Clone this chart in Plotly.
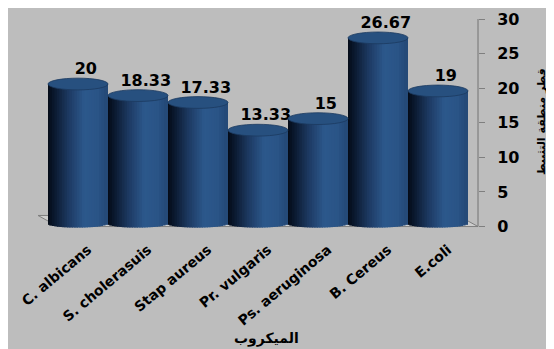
import numpy as np
import plotly.graph_objects as go

categories = ["C. albicans", "S. cholerasuis", "Stap aureus", "Pr. vulgaris",
              "Ps. aeruginosa", "B. Cereus", "E.coli"]
values = [20, 18.33, 17.33, 13.33, 15, 26.67, 19]
value_labels = ["20", "18.33", "17.33", "13.33", "15", "26.67", "19"]
y_ticks = [0, 5, 10, 15, 20, 25, 30]
x_title = "الميكروب"
y_title = "قطر منطقة التثبيط"

# page body has an 8px margin, so the figure starts at (8, 8) in the screenshot
OFF = 8
W, H = 546, 341
ML, MR, MT, MB = 30, 76, 11, 119
xr = [-0.6667, 6.6667]
yr = [-0.5, 30]

def px_x(p):
    return (p - OFF - ML) / (W - ML - MR)

def px_y(p):
    return (H - MB - (p - OFF)) / (H - MT - MB)

idx = list(range(len(categories)))

fig = go.Figure()

N = 24
top_off = 0.6
top_hh = 0.85
b0, bh = 0.4, 0.55
ov = 0.02

# value labels first so cylinders in front may hide them
fig.add_trace(go.Scatter(
    x=[i + 0.13 for i in idx], y=[v + top_off + top_hh for v in values],
    mode="text", text=value_labels, textposition="top center",
    textfont=dict(family="DejaVu Sans", size=16, color="black", weight="bold"),
    hoverinfo="skip", showlegend=False, cliponaxis=False))

def shade(t):
    stops = [(0.0, (4, 10, 20)), (0.12, (10, 24, 45)), (0.35, (28, 56, 95)),
             (0.62, (44, 88, 140)), (0.85, (42, 84, 134)), (1.0, (36, 72, 118))]
    for (t0, c0), (t1, c1) in zip(stops[:-1], stops[1:]):
        if t <= t1:
            f = (t - t0) / (t1 - t0)
            c = [round(c0[k] + f * (c1[k] - c0[k])) for k in range(3)]
            return "rgb(%d,%d,%d)" % tuple(c)
    return "rgb(36,72,118)"

for j in range(N):
    t = (j + 0.5) / N
    u = 2 * t - 1
    base = b0 - bh * np.sqrt(max(0.0, 1 - u * u))
    tops = [v + top_off for v in values]
    start = -0.5 + j / N - (ov if j > 0 else 0)
    width = -0.5 + (j + 1) / N - start
    fig.add_trace(go.Bar(
        x=idx, y=[tp - base for tp in tops], base=[base] * len(values),
        width=width, offset=start,
        marker=dict(color=shade(t), line=dict(width=0)),
        hoverinfo="skip", showlegend=False))

fig.update_layout(barmode="overlay")

shapes = []
shapes.append(dict(type="path", xref="x", yref="y", layer="below",
                   path="M -0.6667 1.6 L 6.3333 1.6 L 6.6667 0 L -0.3333 0 Z",
                   fillcolor="#cdcdcd", line=dict(color="#7f7f7f", width=1)))
shapes.append(dict(type="line", xref="paper", yref="y", x0=1, x1=1, y0=0, y1=30,
                   layer="below", line=dict(color="#7f7f7f", width=1.2)))

for i, v in enumerate(values):
    c = v + top_off
    shapes.append(dict(type="circle", xref="x", yref="y", layer="above",
                       x0=i - 0.5, x1=i + 0.5, y0=c - top_hh, y1=c + top_hh,
                       fillcolor="#27507f", line=dict(color="#1c3a60", width=0.8)))

annotations = []
annotations.append(dict(x=px_x(266), y=px_y(338), xref="paper", yref="paper", text=x_title,
                        showarrow=False, xanchor="center", yanchor="middle",
                        font=dict(family="DejaVu Sans", size=14, color="black", weight="bold")))
annotations.append(dict(x=px_x(541), y=px_y(122), xref="paper", yref="paper", text=y_title,
                        showarrow=False, textangle=-90, xanchor="center", yanchor="middle",
                        font=dict(family="DejaVu Sans", size=11, color="black", weight="bold")))

fig.update_layout(
    width=W, height=H,
    margin=dict(l=ML, r=MR, t=MT, b=MB, pad=0, autoexpand=False),
    paper_bgcolor="#bdbdbd", plot_bgcolor="rgba(0,0,0,0)",
    shapes=shapes, annotations=annotations,
    xaxis=dict(range=xr, showgrid=False, zeroline=False, showline=False, ticks="",
               tickmode="array", tickvals=idx, ticktext=categories, automargin=False,
               tickangle=-40, ticklabelstandoff=8, ticklabelshift=10,
               tickfont=dict(family="DejaVu Sans", size=14, color="black", weight="bold")),
    yaxis=dict(range=yr, side="right", tickvals=y_ticks, showgrid=False, zeroline=False,
               showline=False, ticks="outside", ticklen=6, tickcolor="#7f7f7f",
               ticklabelstandoff=9, automargin=False,
               tickfont=dict(family="DejaVu Sans", size=16, color="black", weight="bold")),
)

fig.write_html("out.html")
